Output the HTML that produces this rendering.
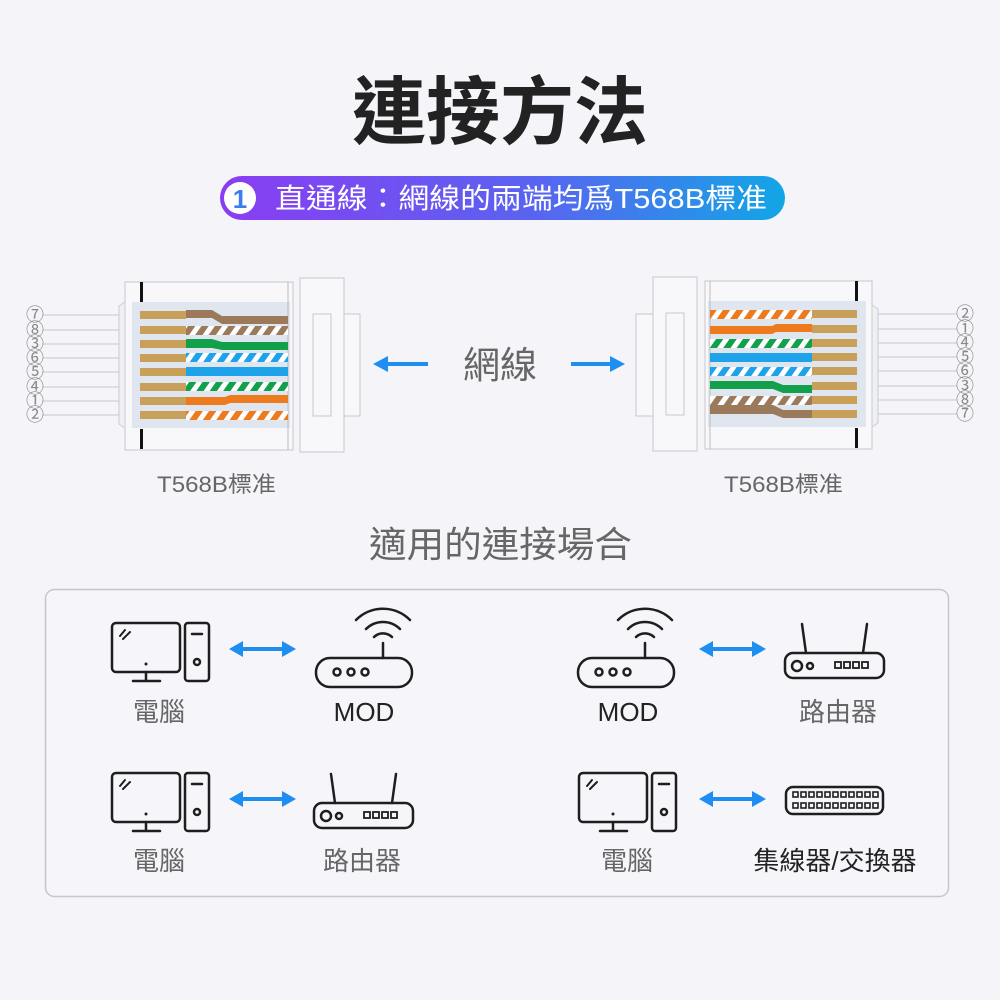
<!DOCTYPE html>
<html><head><meta charset="utf-8"><style>
html,body{margin:0;padding:0;background:#f4f4f9;}
svg{display:block;}
text{font-family:"Liberation Sans","Noto Sans CJK TC","Noto Sans CJK SC",sans-serif;}
</style></head><body>
<svg width="1000" height="1000" viewBox="0 0 1000 1000" xmlns="http://www.w3.org/2000/svg">
<defs>
<linearGradient id="pill" x1="0" x2="1" y1="0" y2="0">
<stop offset="0" stop-color="#8a3cf2"/><stop offset="0.55" stop-color="#5a63f0"/><stop offset="1" stop-color="#12a6e6"/>
</linearGradient>
<pattern id="pBr" width="11" height="20" patternUnits="userSpaceOnUse" patternTransform="rotate(35)"><rect width="11" height="20" fill="#fff"/><rect width="6" height="20" fill="#9b7a5c"/></pattern>
<pattern id="pGr" width="11" height="20" patternUnits="userSpaceOnUse" patternTransform="rotate(35)"><rect width="11" height="20" fill="#fff"/><rect width="6" height="20" fill="#12a04a"/></pattern>
<pattern id="pBl" width="11" height="20" patternUnits="userSpaceOnUse" patternTransform="rotate(35)"><rect width="11" height="20" fill="#fff"/><rect width="6" height="20" fill="#1ea3ea"/></pattern>
<pattern id="pOr" width="11" height="20" patternUnits="userSpaceOnUse" patternTransform="rotate(35)"><rect width="11" height="20" fill="#fff"/><rect width="6" height="20" fill="#ee7a1e"/></pattern>

<g id="pc" fill="none" stroke="#1e1e1e" stroke-width="2.5" stroke-linecap="round">
<rect x="112" y="623" width="68" height="49" rx="4"/>
<line x1="146" y1="672" x2="146" y2="680"/>
<line x1="133" y1="681" x2="160" y2="681"/>
<rect x="185" y="623" width="24" height="58" rx="3"/>
<line x1="192" y1="634" x2="202" y2="634"/>
<circle cx="197" cy="662" r="3"/>
<line x1="120" y1="636" x2="125" y2="630" stroke-width="2"/>
<line x1="123" y1="639" x2="130" y2="632" stroke-width="2"/>
<circle cx="146" cy="664" r="1.5" fill="#1e1e1e" stroke="none"/>
</g>
<g id="mod" fill="none" stroke="#1e1e1e" stroke-width="2.5" stroke-linecap="round">
<rect x="316" y="658" width="96" height="29" rx="14"/>
<circle cx="337" cy="672" r="3.5"/><circle cx="351" cy="672" r="3.5"/><circle cx="365" cy="672" r="3.5"/>
<line x1="383" y1="643" x2="383" y2="658"/>
<path d="M374 637 A13 13 0 0 1 392 637"/>
<path d="M366 629 A24 24 0 0 1 400 629"/>
<path d="M356 620 A38 38 0 0 1 410 620"/>
</g>
<g id="rt" fill="none" stroke="#1e1e1e" stroke-width="2.5" stroke-linecap="round">
<rect x="785" y="653" width="99" height="25" rx="8"/>
<line x1="806" y1="653" x2="802" y2="624"/>
<line x1="863" y1="653" x2="867" y2="624"/>
<circle cx="797" cy="666" r="5"/><circle cx="810" cy="666" r="3"/>
<rect x="835" y="662" width="6" height="6" stroke-width="1.8"/>
<rect x="844" y="662" width="6" height="6" stroke-width="1.8"/>
<rect x="853" y="662" width="6" height="6" stroke-width="1.8"/>
<rect x="862" y="662" width="6" height="6" stroke-width="1.8"/>
</g>
<g id="arr" fill="#1e8ef0">
<rect x="240" y="647" width="45" height="4"/>
<polygon points="229,649 243,641 243,657"/>
<polygon points="296,649 282,641 282,657"/>
</g>
</defs>

<rect width="1000" height="1000" fill="#f4f4f9"/>

<text x="500" y="138" text-anchor="middle" font-size="74" font-weight="bold" fill="#222">連接方法</text>
<rect x="220" y="176" width="565" height="44" rx="22" fill="url(#pill)"/>
<circle cx="240" cy="198" r="16" fill="#fff"/>
<text x="240" y="208" text-anchor="middle" font-size="26" font-weight="bold" fill="#3a7ef0">1</text>
<text x="275" y="208" font-size="28" fill="#fff" textLength="492" lengthAdjust="spacingAndGlyphs">直通線：網線的兩端均爲T568B標准</text>

<g stroke="#c8c8cc" stroke-width="1">
<line x1="42" y1="315" x2="140" y2="315"/><line x1="42" y1="330" x2="140" y2="330"/>
<line x1="42" y1="344" x2="140" y2="344"/><line x1="42" y1="358" x2="140" y2="358"/>
<line x1="42" y1="372" x2="140" y2="372"/><line x1="42" y1="387" x2="140" y2="387"/>
<line x1="42" y1="401" x2="140" y2="401"/><line x1="42" y1="415" x2="140" y2="415"/>
</g>
<g font-size="18" fill="#888" text-anchor="middle">
<text x="35" y="321">⑦</text><text x="35" y="336">⑧</text><text x="35" y="350">③</text><text x="35" y="364">⑥</text>
<text x="35" y="378">⑤</text><text x="35" y="393">④</text><text x="35" y="407">①</text><text x="35" y="421">②</text>
</g>
<rect x="125" y="282" width="168" height="168" fill="#f8f8fb" stroke="#c8c8cc"/>
<polygon points="119,306 125,302 125,428 119,424" fill="#eef0f5" stroke="#ccc"/>
<rect x="132" y="302" width="158" height="126" fill="#dfe6ef"/>
<line x1="288" y1="282" x2="288" y2="450" stroke="#bbb"/>
<rect x="140" y="282" width="3" height="20" fill="#111"/>
<rect x="140" y="429" width="3" height="20" fill="#111"/>
<g fill="#c9a05a">
<rect x="140" y="311" width="46" height="8"/><rect x="140" y="326" width="46" height="8"/>
<rect x="140" y="340" width="46" height="8"/><rect x="140" y="354" width="46" height="8"/>
<rect x="140" y="368" width="46" height="8"/><rect x="140" y="383" width="46" height="8"/>
<rect x="140" y="397" width="46" height="8"/><rect x="140" y="411" width="46" height="8"/>
</g>
<path d="M186 310 H212 L222 316 H288 V324 H222 L212 318 H186Z" fill="#9b7a5c"/>
<rect x="186" y="326" width="102" height="9" fill="url(#pBr)"/>
<path d="M186 339 H212 L222 342 H288 V350 H222 L212 348 H186Z" fill="#12a04a"/>
<rect x="186" y="353" width="102" height="9" fill="url(#pBl)"/>
<rect x="186" y="367" width="102" height="9" fill="#1ea3ea"/>
<rect x="186" y="382" width="102" height="9" fill="url(#pGr)"/>
<path d="M186 397 H225 L230 395 H288 V403 H230 L225 405 H186Z" fill="#ee7a1e"/>
<rect x="186" y="411" width="102" height="9" fill="url(#pOr)"/>
<rect x="300" y="278" width="44" height="174" fill="#f8f8fb" stroke="#c8c8cc"/>
<rect x="313" y="314" width="18" height="102" fill="none" stroke="#c8c8cc"/>
<rect x="344" y="314" width="16" height="102" fill="#f8f8fb" stroke="#c8c8cc"/>

<g stroke="#c8c8cc" stroke-width="1">
<line x1="857" y1="314" x2="957" y2="314"/><line x1="857" y1="329" x2="957" y2="329"/>
<line x1="857" y1="343" x2="957" y2="343"/><line x1="857" y1="357" x2="957" y2="357"/>
<line x1="857" y1="371" x2="957" y2="371"/><line x1="857" y1="386" x2="957" y2="386"/>
<line x1="857" y1="400" x2="957" y2="400"/><line x1="857" y1="414" x2="957" y2="414"/>
</g>
<g font-size="18" fill="#888" text-anchor="middle">
<text x="965" y="320">②</text><text x="965" y="335">①</text><text x="965" y="349">④</text><text x="965" y="363">⑤</text>
<text x="965" y="377">⑥</text><text x="965" y="392">③</text><text x="965" y="406">⑧</text><text x="965" y="420">⑦</text>
</g>
<rect x="705" y="281" width="167" height="168" fill="#f8f8fb" stroke="#c8c8cc"/>
<polygon points="872,305 878,309 878,423 872,427" fill="#eef0f5" stroke="#ccc"/>
<rect x="708" y="301" width="158" height="126" fill="#dfe6ef"/>
<line x1="710" y1="281" x2="710" y2="449" stroke="#bbb"/>
<rect x="855" y="281" width="3" height="20" fill="#111"/>
<rect x="855" y="428" width="3" height="20" fill="#111"/>
<g fill="#c9a05a">
<rect x="812" y="310" width="45" height="8"/><rect x="812" y="325" width="45" height="8"/>
<rect x="812" y="339" width="45" height="8"/><rect x="812" y="353" width="45" height="8"/>
<rect x="812" y="367" width="45" height="8"/><rect x="812" y="382" width="45" height="8"/>
<rect x="812" y="396" width="45" height="8"/><rect x="812" y="410" width="45" height="8"/>
</g>
<rect x="710" y="310" width="102" height="9" fill="url(#pOr)"/>
<path d="M710 326 H772 L776 324 H812 V332 H776 L772 334 H710Z" fill="#ee7a1e"/>
<rect x="710" y="339" width="102" height="9" fill="url(#pGr)"/>
<rect x="710" y="353" width="102" height="9" fill="#1ea3ea"/>
<rect x="710" y="367" width="102" height="9" fill="url(#pBl)"/>
<path d="M710 381 H773 L783 385 H812 V393 H783 L773 389 H710Z" fill="#12a04a"/>
<rect x="710" y="396" width="102" height="9" fill="url(#pBr)"/>
<path d="M710 405 H773 L783 410 H812 V418 H783 L773 414 H710Z" fill="#9b7a5c"/>
<rect x="653" y="277" width="44" height="174" fill="#f8f8fb" stroke="#c8c8cc"/>
<rect x="666" y="313" width="18" height="102" fill="none" stroke="#c8c8cc"/>
<rect x="636" y="314" width="17" height="102" fill="#f8f8fb" stroke="#c8c8cc"/>

<text x="500" y="378" text-anchor="middle" font-size="37" fill="#666">網線</text>
<rect x="385" y="362" width="43" height="4" fill="#1e8ef0"/>
<polygon points="373,364 388,356 388,372" fill="#1e8ef0"/>
<rect x="571" y="362" width="42" height="4" fill="#1e8ef0"/>
<polygon points="625,364 610,356 610,372" fill="#1e8ef0"/>

<text x="157" y="492" font-size="22" fill="#666" textLength="119" lengthAdjust="spacingAndGlyphs">T568B標准</text>
<text x="724" y="492" font-size="22" fill="#666" textLength="119" lengthAdjust="spacingAndGlyphs">T568B標准</text>
<text x="369" y="557" font-size="36" fill="#666" textLength="263" lengthAdjust="spacingAndGlyphs">適用的連接場合</text>

<rect x="45.5" y="589.5" width="903" height="307" rx="9" fill="#f5f5fa" stroke="#c6c6cc" stroke-width="1.5"/>

<use href="#pc"/>
<use href="#arr"/>
<use href="#mod"/>
<use href="#mod" transform="translate(262,0)"/>
<use href="#arr" transform="translate(470,0)"/>
<use href="#rt"/>

<use href="#pc" transform="translate(0,150)"/>
<use href="#arr" transform="translate(0,150)"/>
<use href="#rt" transform="translate(-471,150)"/>
<use href="#pc" transform="translate(467,150)"/>
<use href="#arr" transform="translate(470,150)"/>
<g fill="none" stroke="#1e1e1e" stroke-width="2.5">
<rect x="786" y="787" width="97" height="27" rx="7"/>
</g>
<g fill="none" stroke="#1e1e1e" stroke-width="1.6">
<rect x="793" y="792" width="5" height="5"/><rect x="801" y="792" width="5" height="5"/><rect x="809" y="792" width="5" height="5"/><rect x="817" y="792" width="5" height="5"/><rect x="825" y="792" width="5" height="5"/><rect x="833" y="792" width="5" height="5"/><rect x="841" y="792" width="5" height="5"/><rect x="849" y="792" width="5" height="5"/><rect x="857" y="792" width="5" height="5"/><rect x="865" y="792" width="5" height="5"/><rect x="873" y="792" width="5" height="5"/>
<rect x="793" y="803" width="5" height="5"/><rect x="801" y="803" width="5" height="5"/><rect x="809" y="803" width="5" height="5"/><rect x="817" y="803" width="5" height="5"/><rect x="825" y="803" width="5" height="5"/><rect x="833" y="803" width="5" height="5"/><rect x="841" y="803" width="5" height="5"/><rect x="849" y="803" width="5" height="5"/><rect x="857" y="803" width="5" height="5"/><rect x="865" y="803" width="5" height="5"/><rect x="873" y="803" width="5" height="5"/>
</g>

<g font-size="26" text-anchor="middle">
<text x="159" y="721" fill="#666">電腦</text>
<text x="364" y="721" fill="#222">MOD</text>
<text x="628" y="721" fill="#222">MOD</text>
<text x="838" y="721" fill="#666">路由器</text>
<text x="159" y="870" fill="#666">電腦</text>
<text x="362" y="870" fill="#666">路由器</text>
<text x="627" y="870" fill="#666">電腦</text>
<text x="835" y="870" fill="#222">集線器/交換器</text>
</g>
</svg>
</body></html>
